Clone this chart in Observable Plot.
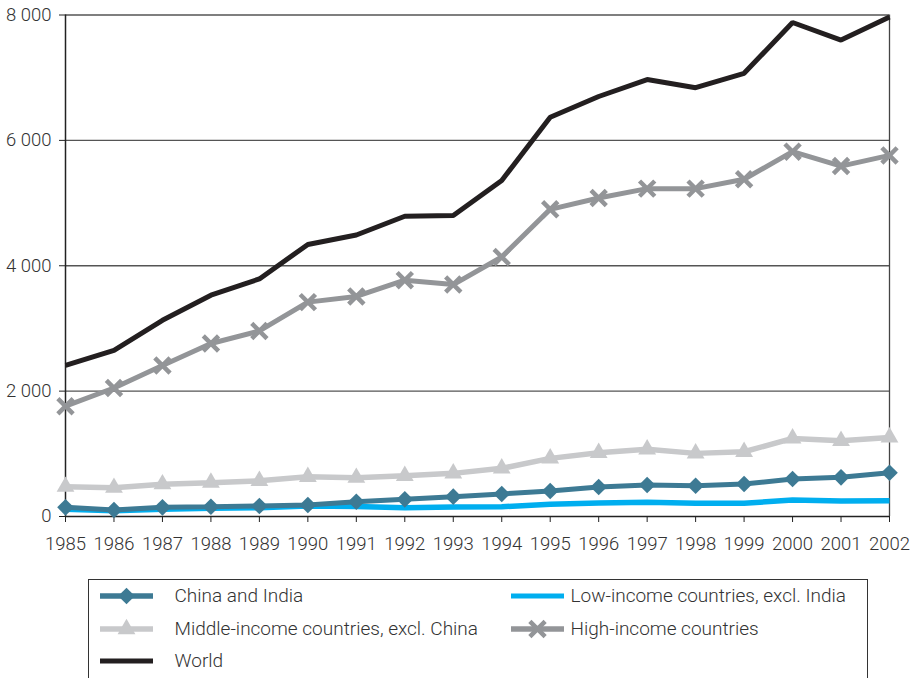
<!DOCTYPE html>
<html><head><meta charset="utf-8">
<script src="https://cdn.jsdelivr.net/npm/d3@7"></script>
<script src="https://cdn.jsdelivr.net/npm/@observablehq/plot@0.6"></script>
<style>
body{margin:0;background:#fff;font-family:Roboto,"Liberation Sans",Arial,sans-serif;}
#wrap{position:relative;width:910px;height:678px;overflow:hidden;}
#legend{position:absolute;left:88px;top:579px;width:780px;height:130px;border:1.5px solid #333;box-sizing:border-box;}
.item{position:absolute;display:flex;align-items:center;font-size:19px;font-weight:300;color:#333;white-space:nowrap;height:22px;}
.item svg{display:block;}
</style></head><body>
<div id="wrap"><div id="chart"></div><div id="legend"></div></div>
<script>
const years = [1985,1986,1987,1988,1989,1990,1991,1992,1993,1994,1995,1996,1997,1998,1999,2000,2001,2002];
const world      = [2410,2650,3130,3530,3790,4340,4490,4790,4800,5360,6370,6700,6970,6840,7070,7880,7600,7970];
const highIncome = [1760,2050,2410,2760,2960,3420,3510,3770,3700,4140,4900,5080,5230,5230,5380,5820,5590,5760];
const middleIncome = [475,460,515,540,570,634,619,650,688,768,927,1017,1071,1007,1033,1246,1208,1262];
const chinaIndia = [146,104,146,156,167,183,236,274,316,359,406,470,502,491,518,598,625,698];
const lowIncome  = [115,92,115,130,140,167,160,140,151,156,194,215,226,210,210,263,247,252];
const yTicks = [0,2000,4000,6000,8000];

const series = [
  {name:"World", values:world, color:"#231f20", symbol:null, width:5},
  {name:"High-income countries", values:highIncome, color:"#939598", symbol:"times", width:5},
  {name:"Middle-income countries, excl. China", values:middleIncome, color:"#c8c9cb", symbol:"triangle2", width:5.5},
  {name:"Low-income countries, excl. India", values:lowIncome, color:"#00aeef", symbol:null, width:5.5},
  {name:"China and India", values:chinaIndia, color:"#3d7a94", symbol:"diamond2", width:5}
];
const rows = series.flatMap(s => years.map((y,i)=>({year:y, value:s.values[i], name:s.name})));
const fmt = d => d3.format(",")(d).replace(/,/g, " ");

const marks = [
  Plot.ruleY(yTicks.slice(1), {stroke:"#555", strokeWidth:1.3}),
  Plot.ruleX([1985], {stroke:"#222", strokeWidth:1.5}),
  Plot.ruleX([2002], {stroke:"#444", strokeWidth:1.3}),
  Plot.ruleY([0], {stroke:"#222", strokeWidth:1.5}),
  Plot.axisX({ticks:years, tickFormat:"d", tickSize:6, tickPadding:14, stroke:"#222", fill:"#333"}),
  Plot.axisY({ticks:yTicks, tickFormat:fmt, tickSize:6, tickPadding:8, stroke:"#222", fill:"#333"})
];
for (const s of series) {
  const d = rows.filter(r => r.name === s.name);
  marks.push(Plot.line(d, {x:"year", y:"value", stroke:s.color, strokeWidth:s.width, strokeLinejoin:"miter", strokeLinecap:"butt"}));
  if (s.symbol === "times") {
    marks.push(Plot.dot(d, {x:"year", y:"value", symbol:"times", r:7, stroke:s.color, strokeWidth:4.5, fill:"none"}));
  } else if (s.symbol) {
    marks.push(Plot.dot(d, {x:"year", y:"value", symbol:s.symbol, r:s.symbol==="triangle2"?8.5:7.5, fill:s.color, stroke:"none"}));
  }
}

const chart = Plot.plot({
  width:910, height:570,
  marginLeft:65, marginRight:21, marginTop:14.5, marginBottom:54,
  style:{fontSize:"18.5px", fontWeight:300, fontFamily:"Roboto, 'Liberation Sans', Arial, sans-serif", color:"#333", background:"#fff"},
  x:{type:"linear", domain:[1985,2002], label:null},
  y:{domain:[0,8000], label:null},
  marks
});
document.getElementById("chart").appendChild(chart);

// Legend
const legendItems = [
  {s:series[4], left:100, row:596, gap:22},
  {s:series[3], left:511, row:596, gap:7},
  {s:series[2], left:100, row:629, gap:22},
  {s:series[1], left:511, row:629, gap:7},
  {s:series[0], left:100, row:661, gap:22}
];
const legend = document.getElementById("legend");
const symMap = {diamond2:d3.symbolDiamond2, triangle2:d3.symbolTriangle2, times:d3.symbolTimes};
for (const it of legendItems) {
  const div = document.createElement("div");
  div.className = "item";
  div.style.left = (it.left - 88 - 1.5) + "px";
  div.style.top = (it.row - 579 - 1.5 - 11) + "px";
  const W = 53, H = 22;
  let svg = `<svg width="${W}" height="${H}"><line x1="0" x2="${W}" y1="${H/2}" y2="${H/2}" stroke="${it.s.color}" stroke-width="${it.s.symbol? 5.5 : 5}"/>`;
  if (it.s.symbol) {
    const r = it.s.symbol==="triangle2" ? 8.5 : 7.5;
    const p = d3.symbol(symMap[it.s.symbol], Math.PI*r*r)();
    if (it.s.symbol === "times") svg += `<path d="${d3.symbol(symMap.times, Math.PI*49)()}" transform="translate(${W/2},${H/2})" fill="none" stroke="${it.s.color}" stroke-width="4.5"/>`;
    else svg += `<path d="${p}" transform="translate(${W/2},${H/2})" fill="${it.s.color}"/>`;
  }
  svg += `</svg>`;
  div.innerHTML = svg + `<span style="margin-left:${it.gap}px">${it.s.name}</span>`;
  legend.appendChild(div);
}
</script>
</body></html>
